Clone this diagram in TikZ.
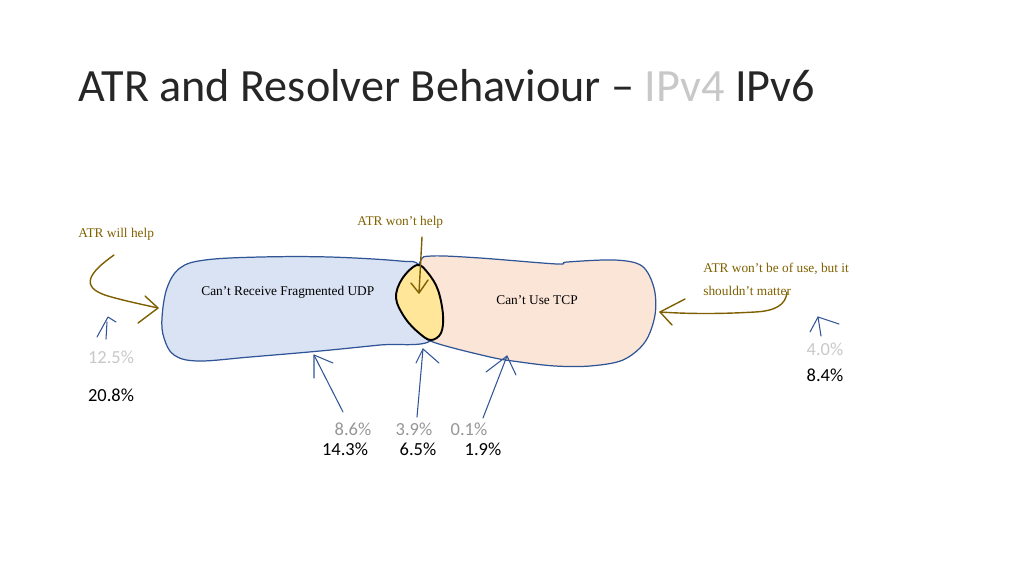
\documentclass[tikz,border=0pt]{standalone}
\usepackage{fontspec}
\setmainfont{Liberation Serif}
\newfontfamily\calib[Ligatures=TeX]{Carlito}
\definecolor{olive}{RGB}{127,96,0}
\definecolor{blueline}{RGB}{47,85,151}
\definecolor{bluefill}{RGB}{218,227,243}
\definecolor{orangefill}{RGB}{251,229,214}
\definecolor{yellowfill}{RGB}{255,230,153}
\definecolor{lightgr}{RGB}{200,200,200}
\definecolor{midgr}{RGB}{150,150,150}
\definecolor{titlecol}{RGB}{38,38,38}
\begin{document}
\begin{tikzpicture}[x=0.02cm,y=-0.02cm,
  olivelabel/.style={anchor=base west,inner sep=0pt,text=olive,font=\fontsize{7.6}{9}\selectfont},
  blobtext/.style={anchor=base west,inner sep=0pt,text=black,font=\fontsize{7.6}{9}\selectfont},
  pctold/.style={inner sep=0pt,text=lightgr,font=\calib\fontsize{10.5}{12}\selectfont},
  pctoldmid/.style={inner sep=0pt,text=midgr,font=\calib\fontsize{10.5}{12}\selectfont},
  pctnew/.style={inner sep=0pt,text=black,font=\calib\fontsize{10.5}{12}\selectfont},
  olivearrow/.style={draw=olive,line width=0.8pt,line cap=round,line join=round},
  bluearrow/.style={draw=blueline,line width=0.6pt,line cap=round,line join=round},
  blob/.style={draw=blueline,line width=0.7pt}
]
\useasboundingbox (0,0) rectangle (1024,576);
% title
\node[anchor=base west,inner sep=0pt,text=titlecol,font=\calib\fontsize{26.3}{30}\selectfont] (title) at (78,101)
  {ATR and Resolver Behaviour – \textcolor{lightgr}{IPv4} IPv6};
% blue blob
\path[blob,fill=bluefill] plot[smooth cycle,tension=0.6] coordinates {
  (162,318) (167,288) (180,268) (205,260) (260,257) (330,257) (400,261) (420,266)
  (438,300) (432,340) (380,345) (320,351) (250,357) (198,361) (174,355) (164,338)};
% orange blob
\path[blob,fill=orangefill] plot[smooth cycle,tension=0.55] coordinates {
  (420,262) (432,256) (480,258) (557,264) (567,262) (615,260) (642,266) (654,288)
  (655,315) (645,342) (623,360) (590,366) (555,366) (520,362) (490,357) (433,342)
  (420,330) (410,300)};
% yellow lens
\path[draw=black,line width=1.1pt,fill=yellowfill] plot[smooth cycle,tension=0.6] coordinates {
  (417,265) (428,273) (438,290) (443,315) (441,333) (431,340) (419,333) (405,318) (396,298) (402,279)};
% blob texts
\node[blobtext] (udp) at (201,295) {Can’t Receive Fragmented UDP};
\node[blobtext] (tcp) at (496,304) {Can’t Use TCP};
% olive labels
\node[olivelabel] (willhelp) at (78,237) {ATR will help};
\node[olivelabel] (wonthelp) at (357,225) {ATR won’t help};
\node[olivelabel] (wontuse1) at (703,272) {ATR won’t be of use, but it};
\node[olivelabel] (wontuse2) at (703,295) {shouldn’t matter};
% olive arrows
\coordinate (o1s) at (114,255); \coordinate (o1m) at (108,296); \coordinate (o1t) at (158,308);
\draw[olivearrow] (o1s) .. controls (90,272) and (78,287) .. (o1m) .. controls (125,301) and (145,305) .. (o1t);
\draw[olivearrow] (145,296) -- (o1t) -- (138,323);
\coordinate (o2s) at (422,237); \coordinate (o2t) at (419,293);
\draw[olivearrow] (o2s) -- (o2t);
\draw[olivearrow] (411,283) -- (o2t) -- (428,280);
\coordinate (o3s) at (787,292); \coordinate (o3m) at (755,312); \coordinate (o3t) at (660,312);
\draw[olivearrow] (o3s) .. controls (786,305) and (775,311) .. (o3m) .. controls (720,314) and (690,314) .. (o3t);
\draw[olivearrow] (685,299) -- (o3t) -- (672,325);
% blue arrows
\coordinate (b1s) at (106,339); \coordinate (b1t) at (108,317);
\draw[bluearrow] (b1s) -- (107,322);
\draw[bluearrow] (97,337) -- (b1t) -- (116,322);
\coordinate (b2s) at (343,412); \coordinate (b2t) at (314,355);
\draw[bluearrow] (b2s) -- (b2t);
\draw[bluearrow] (314,378) -- (b2t) -- (333,363);
\coordinate (b3s) at (417,417); \coordinate (b3t) at (423,349);
\draw[bluearrow] (b3s) -- (b3t);
\draw[bluearrow] (416,363) -- (b3t) -- (439,363);
\coordinate (b4s) at (483,418); \coordinate (b4t) at (507,356);
\draw[bluearrow] (b4s) -- (b4t);
\draw[bluearrow] (486,372) -- (b4t) -- (516,375);
\coordinate (b5s) at (821,336); \coordinate (b5t) at (818,317);
\draw[bluearrow] (b5s) -- (b5t);
\draw[bluearrow] (810,332) -- (b5t) -- (839,324);
% percentages
\node[pctold] (p125) at (111,357) {12.5\%};
\node[pctnew] (p208) at (111,395) {20.8\%};
\node[pctold] (p40) at (825,349) {4.0\%};
\node[pctnew] (p84) at (825,375) {8.4\%};
\node[pctoldmid] (p86) at (353,429) {8.6\%};
\node[pctnew] (p143) at (345,449) {14.3\%};
\node[pctoldmid] (p39) at (414,429) {3.9\%};
\node[pctnew] (p65) at (418,449) {6.5\%};
\node[pctoldmid] (p01) at (469,429) {0.1\%};
\node[pctnew] (p19) at (483,449) {1.9\%};
\end{tikzpicture}
\end{document}
